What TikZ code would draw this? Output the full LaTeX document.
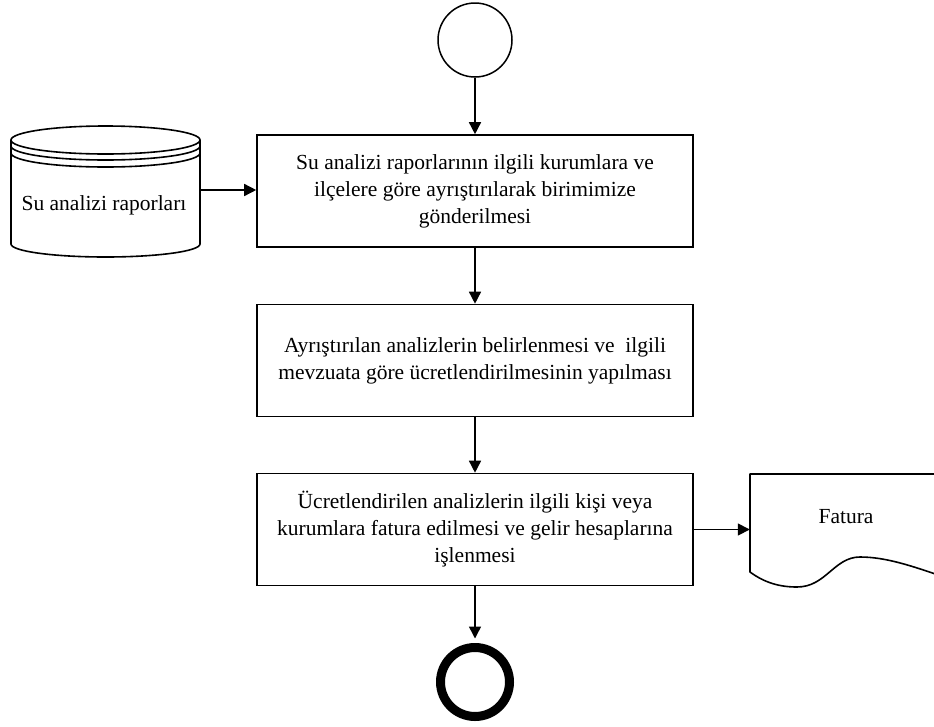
\documentclass[tikz,border=0pt]{standalone}
\usepackage{fontspec}
\setmainfont{Liberation Serif}
\usetikzlibrary{arrows.meta}

\begin{document}
\tikzset{
  txt/.style={font=\fontsize{21.5}{27}\selectfont, align=center},
  procbox/.style={txt, draw, line width=1.6pt, minimum width=436pt,
    minimum height=112pt, inner sep=0pt, fill=white},
  flow/.style={line width=1.5pt, -{Triangle[length=12pt,width=12pt]}},
  ghost/.style={inner sep=0pt, draw=none},
  outline/.style={line width=1.6pt, line join=round}
}
\begin{tikzpicture}[x=1pt,y=-1pt]
\useasboundingbox (0,0) rectangle (934,726);
\clip (0,0) rectangle (934,726);

% start and end events
\node[circle, draw, line width=1.5pt, minimum size=74pt, inner sep=0pt] (start) at (475,40) {};
\node[circle, draw, line width=9pt, minimum size=69pt, inner sep=0pt] (stop) at (475,682) {};

% process steps
\node[procbox] (b1) at (475,191) {Su analizi raporlarının ilgili kurumlara ve\\ilçelere göre ayrıştırılarak birimimize\\gönderilmesi};
\node[procbox] (b2) at (475,360.5) {Ayrıştırılan analizlerin belirlenmesi ve\ \ ilgili\\mevzuata göre ücretlendirilmesinin yapılması};
\node[procbox] (b3) at (475,529.5) {Ücretlendirilen analizlerin ilgili kişi veya\\kurumlara fatura edilmesi ve gelir hesaplarına\\işlenmesi};

% database cylinder with three rims
\draw[outline, fill=white] (11,140) -- (11,244) arc (180:0:94.5 and 13) -- (200,140);
\draw[outline] (105.5,140) ellipse (94.5 and 14);
\draw[outline] (11,146) arc (180:0:94.5 and 14);
\draw[outline] (11,153) arc (180:0:94.5 and 14);
\node[ghost, minimum width=189pt, minimum height=98pt] (db) at (105.5,190) {};
\node[txt] (dbtext) at (104,205) {Su analizi raporları};

% document shape
\draw[outline, fill=white] (944,474) -- (750,474) -- (750,572)
  .. controls (765,583) and (780,587) .. (797,587)
  .. controls (826,587) and (834,557) .. (860,557)
  .. controls (886,557) and (912,566) .. (944,577);
\node[ghost, minimum width=192pt, minimum height=98pt] (fat) at (846,523) {};
\node[txt] (fattext) at (846,517) {Fatura};

% connectors
\draw[flow] (start) -- (b1);
\draw[flow] (b1) -- (b2);
\draw[flow] (b2) -- (b3);
\draw[flow, shorten >=4.5pt] (b3) -- (stop);
\draw[flow] (db.east) -- (db.east -| b1.west);
\draw[flow] (b3.east) -- (b3.east -| fat.west);
\end{tikzpicture}
\end{document}
